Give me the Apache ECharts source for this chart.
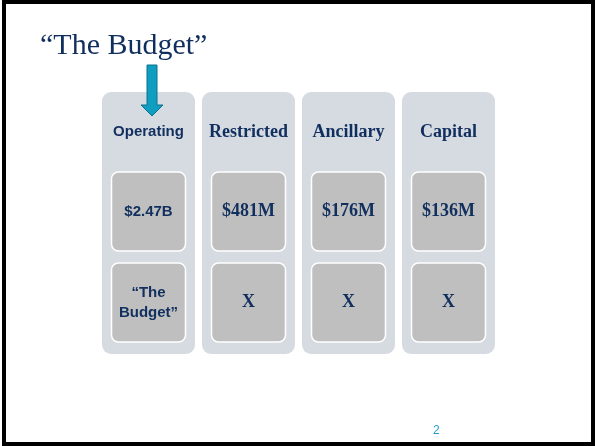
<!DOCTYPE html>
<html>
<head>
<meta charset="utf-8">
<script src="https://cdn.jsdelivr.net/npm/echarts@6/dist/echarts.min.js"></script>
<style>
  html, body { margin: 0; padding: 0; background: #fff; }
  #chart { width: 595px; height: 446px; }
</style>
</head>
<body>
<div id="chart"></div>
<script>
// 各类预算（标题 / 金额 / 备注）
var categories = ['Operating', 'Restricted', 'Ancillary', 'Capital'];
var amounts = ['$2.47B', '$481M', '$176M', '$136M'];
var notes = ['\u201cThe\nBudget\u201d', 'X', 'X', 'X'];
var titleText = '\u201cThe Budget\u201d';
var pageNo = '2';

var navy = '#112f5e';

// 第一列是无衬线字体，其余是衬线字体
function fontOf(i) {
  return i === 0 ? 'bold 15px "Liberation Sans"' : 'bold 18px "Liberation Serif"';
}

function renderItem(params, api) {
  var i = api.value(0);
  var top = api.coord([i, 0]);
  var band = api.size([1, 0])[0];
  var w = band * 0.93;
  var x0 = top[0] - w / 2;
  var h = api.size([0, 262])[1];
  var boxW = 74;
  var boxH = 79;
  var bx = top[0] - boxW / 2;
  return {
    type: 'group',
    children: [
      {
        type: 'rect',
        shape: { x: x0, y: top[1], width: w, height: h, r: 9 },
        style: { fill: '#d6dbe2' }
      },
      {
        type: 'text',
        style: {
          x: top[0], y: top[1] + 40, text: categories[i],
          align: 'center', verticalAlign: 'middle',
          font: fontOf(i), fill: navy
        }
      },
      {
        type: 'rect',
        shape: { x: bx, y: top[1] + 80, width: boxW, height: boxH, r: 7 },
        style: { fill: '#bfbfbf', stroke: '#fff', lineWidth: 1.5 }
      },
      {
        type: 'text',
        style: {
          x: top[0], y: top[1] + 80 + boxH / 2, text: amounts[i],
          align: 'center', verticalAlign: 'middle',
          font: fontOf(i), fill: navy
        }
      },
      {
        type: 'rect',
        shape: { x: bx, y: top[1] + 171, width: boxW, height: boxH, r: 7 },
        style: { fill: '#bfbfbf', stroke: '#fff', lineWidth: 1.5 }
      },
      {
        type: 'text',
        style: {
          x: top[0], y: top[1] + 171 + boxH / 2, text: notes[i],
          align: 'center', verticalAlign: 'middle', lineHeight: 20,
          font: fontOf(i), fill: navy
        }
      }
    ]
  };
}

var chart = echarts.init(document.getElementById('chart'), null, { renderer: 'canvas' });

var option = {
  backgroundColor: '#fff',
  animation: false,
  title: {
    text: titleText,
    left: 35,
    top: 26,
    textStyle: {
      fontFamily: 'Liberation Serif',
      fontWeight: 'normal',
      fontSize: 30,
      color: navy
    }
  },
  grid: { left: 98.5, right: 96.5, top: 92, bottom: 92 },
  xAxis: {
    type: 'category',
    data: categories,
    show: false
  },
  yAxis: {
    type: 'value',
    min: 0,
    max: 262,
    inverse: true,
    show: false
  },
  series: [{
    type: 'custom',
    renderItem: renderItem,
    data: categories.map(function (c, i) { return [i]; })
  }],
  graphic: [
    {
      type: 'rect',
      shape: { x: 4, y: 2, width: 589, height: 442 },
      style: { fill: 'none', stroke: '#000', lineWidth: 4 },
      z: 100
    },
    {
      // 指向 Operating 的箭头
      type: 'polygon',
      shape: {
        points: [[147, 65], [157, 65], [157, 105], [163, 105], [152, 116], [141, 105], [147, 105]]
      },
      style: { fill: '#0f9dc0', stroke: '#0b7391', lineWidth: 1 },
      z: 50
    },
    {
      type: 'text',
      left: 433,
      top: 425,
      style: {
        text: pageNo,
        font: '12px "Liberation Sans"',
        fill: '#2a9ccb'
      }
    }
  ]
};

chart.setOption(option);
</script>
</body>
</html>
